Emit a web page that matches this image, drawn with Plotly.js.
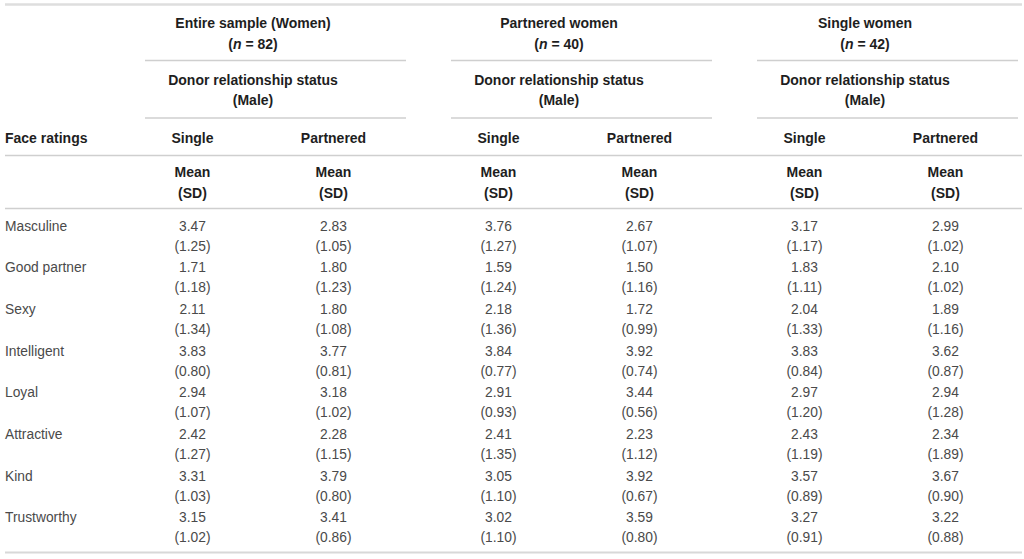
<!DOCTYPE html>
<html>
<head>
<meta charset="utf-8">
<script src="https://cdn.plot.ly/plotly-3.0.1.min.js"></script>
<style>
  html, body { margin: 0; padding: 0; background: #ffffff; }
  #chart { width: 1024px; height: 559px; }
</style>
</head>
<body>
<div id="chart"></div>
<script>
// ---------------- DATA ----------------
const ratings = ["Masculine", "Good partner", "Sexy", "Intelligent", "Loyal", "Attractive", "Kind", "Trustworthy"];

const groupTitles = ["Entire sample (Women)", "Partnered women", "Single women"];
const groupN = [82, 40, 42];
const subHeader = ["Donor relationship status", "(Male)"];
const donorStatus = ["Single", "Partnered"];
const rowHeaderLabel = "Face ratings";
const statLabel = ["Mean", "(SD)"];

// Entire sample (Women)
const entireSingleMean     = [3.47, 1.71, 2.11, 3.83, 2.94, 2.42, 3.31, 3.15];
const entireSingleSD       = [1.25, 1.18, 1.34, 0.80, 1.07, 1.27, 1.03, 1.02];
const entirePartneredMean  = [2.83, 1.80, 1.80, 3.77, 3.18, 2.28, 3.79, 3.41];
const entirePartneredSD    = [1.05, 1.23, 1.08, 0.81, 1.02, 1.15, 0.80, 0.86];
// Partnered women
const partneredSingleMean    = [3.76, 1.59, 2.18, 3.84, 2.91, 2.41, 3.05, 3.02];
const partneredSingleSD      = [1.27, 1.24, 1.36, 0.77, 0.93, 1.35, 1.10, 1.10];
const partneredPartneredMean = [2.67, 1.50, 1.72, 3.92, 3.44, 2.23, 3.92, 3.59];
const partneredPartneredSD   = [1.07, 1.16, 0.99, 0.74, 0.56, 1.12, 0.67, 0.80];
// Single women
const singleSingleMean    = [3.17, 1.83, 2.04, 3.83, 2.97, 2.43, 3.57, 3.27];
const singleSingleSD      = [1.17, 1.11, 1.33, 0.84, 1.20, 1.19, 0.89, 0.91];
const singlePartneredMean = [2.99, 2.10, 1.89, 3.62, 2.94, 2.34, 3.67, 3.22];
const singlePartneredSD   = [1.02, 1.02, 1.16, 0.87, 1.28, 1.89, 0.90, 0.88];

const columnMeans = [entireSingleMean, entirePartneredMean, partneredSingleMean, partneredPartneredMean, singleSingleMean, singlePartneredMean];
const columnSDs   = [entireSingleSD, entirePartneredSD, partneredSingleSD, partneredPartneredSD, singleSingleSD, singlePartneredSD];

// ---------------- LAYOUT (positions in axis units = px) ----------------
const W = 1024, H = 559;
const GROUP_LEFT = [145, 451, 757];
const GROUP_W = 261;
const COL_OFF = [47.5, 188.5];
const HEAD_OFF = 108;
const LABEL_X = 5;
const TEXT_DY = 1.5;
const ROW_Y0 = 225.7 + TEXT_DY, ROW_STEP = 41.67, SD_DY = 20;

const Y_TITLE = 22.5 + TEXT_DY, Y_N = 43.5 + TEXT_DY, Y_DONOR = 80 + TEXT_DY, Y_MALE = 99.5 + TEXT_DY,
      Y_STATUS = 137.5 + TEXT_DY, Y_MEAN = 172 + TEXT_DY, Y_SD = 192.5 + TEXT_DY;
const LINE_Y_TOP = 4.5, LINE_Y_G1 = 60.5, LINE_Y_G2 = 118, LINE_Y_STATUS = 155.5, LINE_Y_HEAD = 208.5, LINE_Y_BOTTOM = 552.5;

const FONT = "Liberation Sans, Arial, sans-serif";
const headFont = {family: FONT, size: 14, color: "#1e1e1e", weight: 700};
const bodyFont = {family: FONT, size: 13.8, color: "#4a4a4a", weight: 400};

const colX = [];
GROUP_LEFT.forEach(l => COL_OFF.forEach(o => colX.push(l + o)));
const headX = GROUP_LEFT.map(l => l + HEAD_OFF);
const rowY = ratings.map((_, i) => ROW_Y0 + i * ROW_STEP);

const traces = [];

// data cells
columnMeans.forEach((means, c) => {
  traces.push({
    type: "scatter", mode: "text",
    x: means.map(() => colX[c]), y: rowY,
    text: means.map(v => v.toFixed(2)),
    textposition: "middle center", textfont: bodyFont,
    hoverinfo: "skip", showlegend: false, cliponaxis: false
  });
  traces.push({
    type: "scatter", mode: "text",
    x: columnSDs[c].map(() => colX[c]), y: rowY.map(y => y + SD_DY),
    text: columnSDs[c].map(v => "(" + v.toFixed(2) + ")"),
    textposition: "middle center", textfont: bodyFont,
    hoverinfo: "skip", showlegend: false, cliponaxis: false
  });
});

// row labels
traces.push({
  type: "scatter", mode: "text",
  x: ratings.map(() => LABEL_X), y: rowY,
  text: ratings, textposition: "middle right", textfont: bodyFont,
  hoverinfo: "skip", showlegend: false, cliponaxis: false
});

// header texts
const hx = [], hy = [], ht = [];
headX.forEach((x, g) => {
  hx.push(x, x, x, x); hy.push(Y_TITLE, Y_N, Y_DONOR, Y_MALE);
  ht.push(groupTitles[g], "(<i>n</i> = " + groupN[g] + ")", subHeader[0], subHeader[1]);
});
colX.forEach((x, c) => {
  hx.push(x, x, x); hy.push(Y_STATUS, Y_MEAN, Y_SD);
  ht.push(donorStatus[c % 2], statLabel[0], statLabel[1]);
});
traces.push({
  type: "scatter", mode: "text", x: hx, y: hy, text: ht,
  textposition: "middle center", textfont: headFont,
  hoverinfo: "skip", showlegend: false, cliponaxis: false
});
traces.push({
  type: "scatter", mode: "text", x: [LABEL_X], y: [Y_STATUS], text: [rowHeaderLabel],
  textposition: "middle right", textfont: headFont,
  hoverinfo: "skip", showlegend: false, cliponaxis: false
});

// rules
const lineStyle = {color: "#cfcfcf", width: 1.5};
const shapes = [];
function hline(x0, x1, y, style) {
  shapes.push({type: "line", xref: "x", yref: "y", x0: x0, x1: x1, y0: y, y1: y, line: style});
}
hline(5, 1022, LINE_Y_TOP, {color: "#dedede", width: 2.5});
GROUP_LEFT.forEach(l => { hline(l, l + GROUP_W, LINE_Y_G1, lineStyle); hline(l, l + GROUP_W, LINE_Y_G2, lineStyle); });
hline(5, 1022, LINE_Y_STATUS, lineStyle);
hline(5, 1022, LINE_Y_HEAD, lineStyle);
hline(5, 1022, LINE_Y_BOTTOM, {color: "#d8d8d8", width: 2});

const layout = {
  width: W, height: H,
  margin: {l: 0, r: 0, t: 0, b: 0, pad: 0},
  paper_bgcolor: "#ffffff", plot_bgcolor: "#ffffff",
  xaxis: {range: [0, W], visible: false, fixedrange: true},
  yaxis: {range: [H, 0], visible: false, fixedrange: true},
  shapes: shapes,
  showlegend: false,
  hovermode: false
};

Plotly.newPlot("chart", traces, layout, {staticPlot: true, displayModeBar: false});
</script>
</body>
</html>
